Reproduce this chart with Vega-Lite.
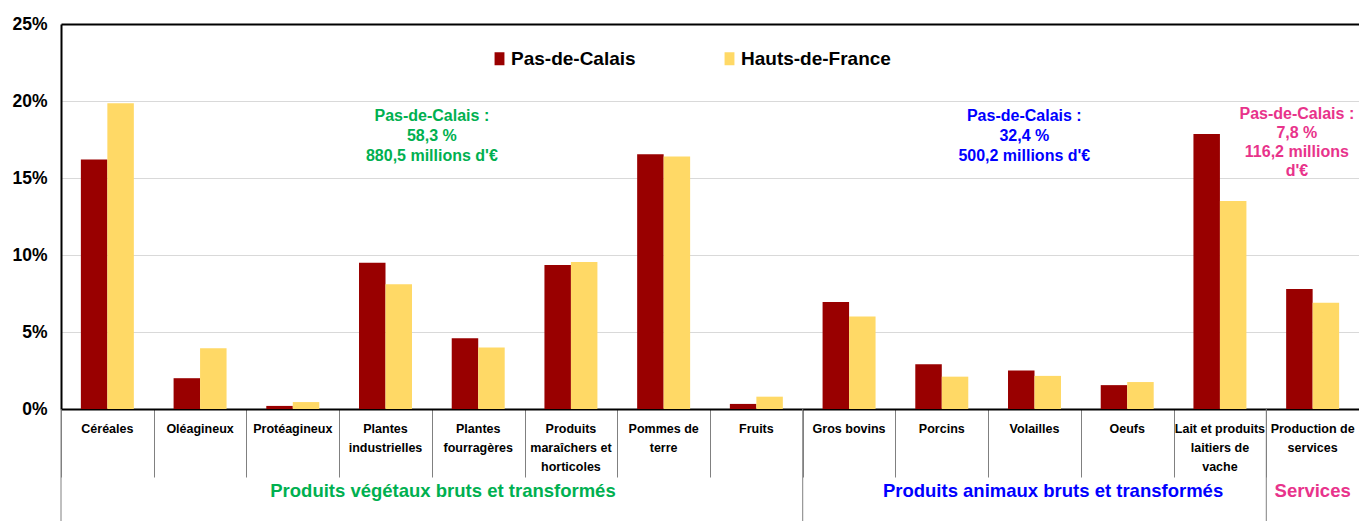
{
  "$schema": "https://vega.github.io/schema/vega-lite/v6.json",
  "width": 1298,
  "height": 385,
  "autosize": {"type": "none"},
  "padding": {"left": 61, "top": 24, "right": 0, "bottom": 112},
  "background": "white",
  "config": {"view": {"stroke": null}},
  "datasets": {
    "bars": [
      {"cat": "Céréales", "region": "Pas-de-Calais", "value": 16.2},
      {"cat": "Céréales", "region": "Hauts-de-France", "value": 19.85},
      {"cat": "Oléagineux", "region": "Pas-de-Calais", "value": 2.0},
      {"cat": "Oléagineux", "region": "Hauts-de-France", "value": 3.95},
      {"cat": "Protéagineux", "region": "Pas-de-Calais", "value": 0.2},
      {"cat": "Protéagineux", "region": "Hauts-de-France", "value": 0.45},
      {"cat": "Plantes industrielles", "region": "Pas-de-Calais", "value": 9.5},
      {"cat": "Plantes industrielles", "region": "Hauts-de-France", "value": 8.1},
      {"cat": "Plantes fourragères", "region": "Pas-de-Calais", "value": 4.6},
      {"cat": "Plantes fourragères", "region": "Hauts-de-France", "value": 4.0},
      {"cat": "Produits maraîchers et horticoles", "region": "Pas-de-Calais", "value": 9.35},
      {"cat": "Produits maraîchers et horticoles", "region": "Hauts-de-France", "value": 9.55},
      {"cat": "Pommes de terre", "region": "Pas-de-Calais", "value": 16.55},
      {"cat": "Pommes de terre", "region": "Hauts-de-France", "value": 16.4},
      {"cat": "Fruits", "region": "Pas-de-Calais", "value": 0.33},
      {"cat": "Fruits", "region": "Hauts-de-France", "value": 0.8},
      {"cat": "Gros bovins", "region": "Pas-de-Calais", "value": 6.95},
      {"cat": "Gros bovins", "region": "Hauts-de-France", "value": 6.0},
      {"cat": "Porcins", "region": "Pas-de-Calais", "value": 2.9},
      {"cat": "Porcins", "region": "Hauts-de-France", "value": 2.1},
      {"cat": "Volailles", "region": "Pas-de-Calais", "value": 2.5},
      {"cat": "Volailles", "region": "Hauts-de-France", "value": 2.15},
      {"cat": "Oeufs", "region": "Pas-de-Calais", "value": 1.55},
      {"cat": "Oeufs", "region": "Hauts-de-France", "value": 1.75},
      {"cat": "Lait et produits laitiers de vache", "region": "Pas-de-Calais", "value": 17.85},
      {"cat": "Lait et produits laitiers de vache", "region": "Hauts-de-France", "value": 13.5},
      {"cat": "Production de services", "region": "Pas-de-Calais", "value": 7.8},
      {"cat": "Production de services", "region": "Hauts-de-France", "value": 6.9}
    ],
    "cats": [
      {"cat": "Céréales", "label": "Céréales"},
      {"cat": "Oléagineux", "label": "Oléagineux"},
      {"cat": "Protéagineux", "label": "Protéagineux"},
      {"cat": "Plantes industrielles", "label": "Plantes|industrielles"},
      {"cat": "Plantes fourragères", "label": "Plantes|fourragères"},
      {"cat": "Produits maraîchers et horticoles", "label": "Produits|maraîchers et|horticoles"},
      {"cat": "Pommes de terre", "label": "Pommes de|terre"},
      {"cat": "Fruits", "label": "Fruits"},
      {"cat": "Gros bovins", "label": "Gros bovins"},
      {"cat": "Porcins", "label": "Porcins"},
      {"cat": "Volailles", "label": "Volailles"},
      {"cat": "Oeufs", "label": "Oeufs"},
      {"cat": "Lait et produits laitiers de vache", "label": "Lait et produits|laitiers de|vache"},
      {"cat": "Production de services", "label": "Production de|services"}
    ],
    "groups": [
      {"cat": "Céréales"},
      {"cat": "Gros bovins"},
      {"cat": "Production de services"}
    ]
  },
  "layer": [
    {
      "data": {"name": "bars"},
      "mark": {"type": "bar"},
      "encoding": {
        "x": {
          "field": "cat", "type": "nominal", "title": null,
          "scale": {
            "domain": ["Céréales", "Oléagineux", "Protéagineux", "Plantes industrielles", "Plantes fourragères", "Produits maraîchers et horticoles", "Pommes de terre", "Fruits", "Gros bovins", "Porcins", "Volailles", "Oeufs", "Lait et produits laitiers de vache", "Production de services"],
            "paddingInner": 0, "paddingOuter": 0
          },
          "axis": {
            "labels": false, "tickBand": "extent", "tickSize": 68, "tickColor": "#808080", "tickWidth": 1,
            "domainColor": "black", "domainWidth": 2, "grid": false, "title": null
          }
        },
        "xOffset": {
          "field": "region", "type": "nominal",
          "scale": {"domain": ["Pas-de-Calais", "Hauts-de-France"], "paddingInner": 0, "paddingOuter": 0.75}
        },
        "y": {
          "field": "value", "type": "quantitative", "title": null,
          "scale": {"domain": [0, 25], "nice": false},
          "axis": {
            "values": [0, 5, 10, 15, 20, 25],
            "labelExpr": "datum.value + '%'",
            "ticks": false, "domainColor": "black", "domainWidth": 2,
            "grid": true,
            "gridColor": {"condition": {"test": "datum.value == 25", "value": "black"}, "value": "#D9D9D9"},
            "gridWidth": {"condition": {"test": "datum.value == 25", "value": 2}, "value": 1},
            "labelFont": "Liberation Sans", "labelFontSize": 17.5, "labelFontWeight": "bold",
            "labelColor": "black", "labelPadding": 14
          }
        },
        "color": {
          "field": "region", "type": "nominal",
          "scale": {"domain": ["Pas-de-Calais", "Hauts-de-France"], "range": ["#990000", "#FFD966"]},
          "legend": {
            "orient": "none", "legendX": 429, "legendY": 25, "direction": "horizontal", "title": null,
            "symbolType": "M-0.76,-1H0.76V1H-0.76Z", "symbolSize": 169, "symbolStrokeWidth": 0,
            "labelFont": "Liberation Sans", "labelFontSize": 19, "labelFontWeight": "bold",
            "labelColor": "black", "labelOffset": 2, "columnPadding": 84, "padding": 0
          }
        }
      }
    },
    {
      "data": {"name": "groups"},
      "mark": {"type": "rule", "color": "#808080", "strokeWidth": 1},
      "encoding": {
        "x": {"field": "cat", "type": "nominal", "bandPosition": 0, "title": null},
        "y": {"datum": 0},
        "y2": {"datum": -7.3}
      }
    },
    {
      "data": {"name": "cats"},
      "mark": {"type": "text", "baseline": "top", "align": "center", "dy": 14, "lineBreak": "|", "lineHeight": 19,
               "font": "Liberation Sans", "fontSize": 12.5, "fontWeight": "bold", "color": "black"},
      "encoding": {
        "x": {"field": "cat", "type": "nominal", "title": null},
        "y": {"datum": 0},
        "text": {"field": "label"}
      }
    },
    {
      "data": {"values": [{"cat": "Plantes fourragères", "y": 19.55, "txt": "Pas-de-Calais :|58,3 %|880,5 millions d'€"}]},
      "mark": {"type": "text", "baseline": "top", "align": "center", "lineBreak": "|", "lineHeight": 20,
               "font": "Liberation Sans", "fontSize": 16, "fontWeight": "bold", "color": "#00B050"},
      "encoding": {
        "x": {"field": "cat", "type": "nominal", "bandPosition": 0, "title": null},
        "y": {"field": "y", "type": "quantitative"},
        "text": {"field": "txt"}
      }
    },
    {
      "data": {"values": [{"cat": "Volailles", "y": 19.55, "txt": "Pas-de-Calais :|32,4 %|500,2 millions d'€"}]},
      "mark": {"type": "text", "baseline": "top", "align": "center", "lineBreak": "|", "lineHeight": 20,
               "font": "Liberation Sans", "fontSize": 16, "fontWeight": "bold", "color": "#0000FF"},
      "encoding": {
        "x": {"field": "cat", "type": "nominal", "bandPosition": 0.39, "title": null},
        "y": {"field": "y", "type": "quantitative"},
        "text": {"field": "txt"}
      }
    },
    {
      "data": {"values": [{"cat": "Production de services", "y": 19.68, "txt": "Pas-de-Calais :|7,8 %|116,2 millions|d'€"}]},
      "mark": {"type": "text", "baseline": "top", "align": "center", "lineBreak": "|", "lineHeight": 19,
               "font": "Liberation Sans", "fontSize": 16, "fontWeight": "bold", "color": "#E8338B"},
      "encoding": {
        "x": {"field": "cat", "type": "nominal", "bandPosition": 0.33, "title": null},
        "y": {"field": "y", "type": "quantitative"},
        "text": {"field": "txt"}
      }
    },
    {
      "data": {"values": [{"cat": "Plantes fourragères", "y": -5.35, "txt": "Produits végétaux bruts et transformés"}]},
      "mark": {"type": "text", "baseline": "middle", "align": "center",
               "font": "Liberation Sans", "fontSize": 18.5, "fontWeight": "bold", "color": "#00B050"},
      "encoding": {
        "x": {"field": "cat", "type": "nominal", "bandPosition": 0.12, "title": null},
        "y": {"field": "y", "type": "quantitative"},
        "text": {"field": "txt"}
      }
    },
    {
      "data": {"values": [{"cat": "Volailles", "y": -5.35, "txt": "Produits animaux bruts et transformés"}]},
      "mark": {"type": "text", "baseline": "middle", "align": "center",
               "font": "Liberation Sans", "fontSize": 18.5, "fontWeight": "bold", "color": "#0000FF"},
      "encoding": {
        "x": {"field": "cat", "type": "nominal", "bandPosition": 0.7, "title": null},
        "y": {"field": "y", "type": "quantitative"},
        "text": {"field": "txt"}
      }
    },
    {
      "data": {"values": [{"cat": "Production de services", "y": -5.35, "txt": "Services"}]},
      "mark": {"type": "text", "baseline": "middle", "align": "center",
               "font": "Liberation Sans", "fontSize": 18.5, "fontWeight": "bold", "color": "#E8338B"},
      "encoding": {
        "x": {"field": "cat", "type": "nominal", "bandPosition": 0.5, "title": null},
        "y": {"field": "y", "type": "quantitative"},
        "text": {"field": "txt"}
      }
    }
  ]
}
